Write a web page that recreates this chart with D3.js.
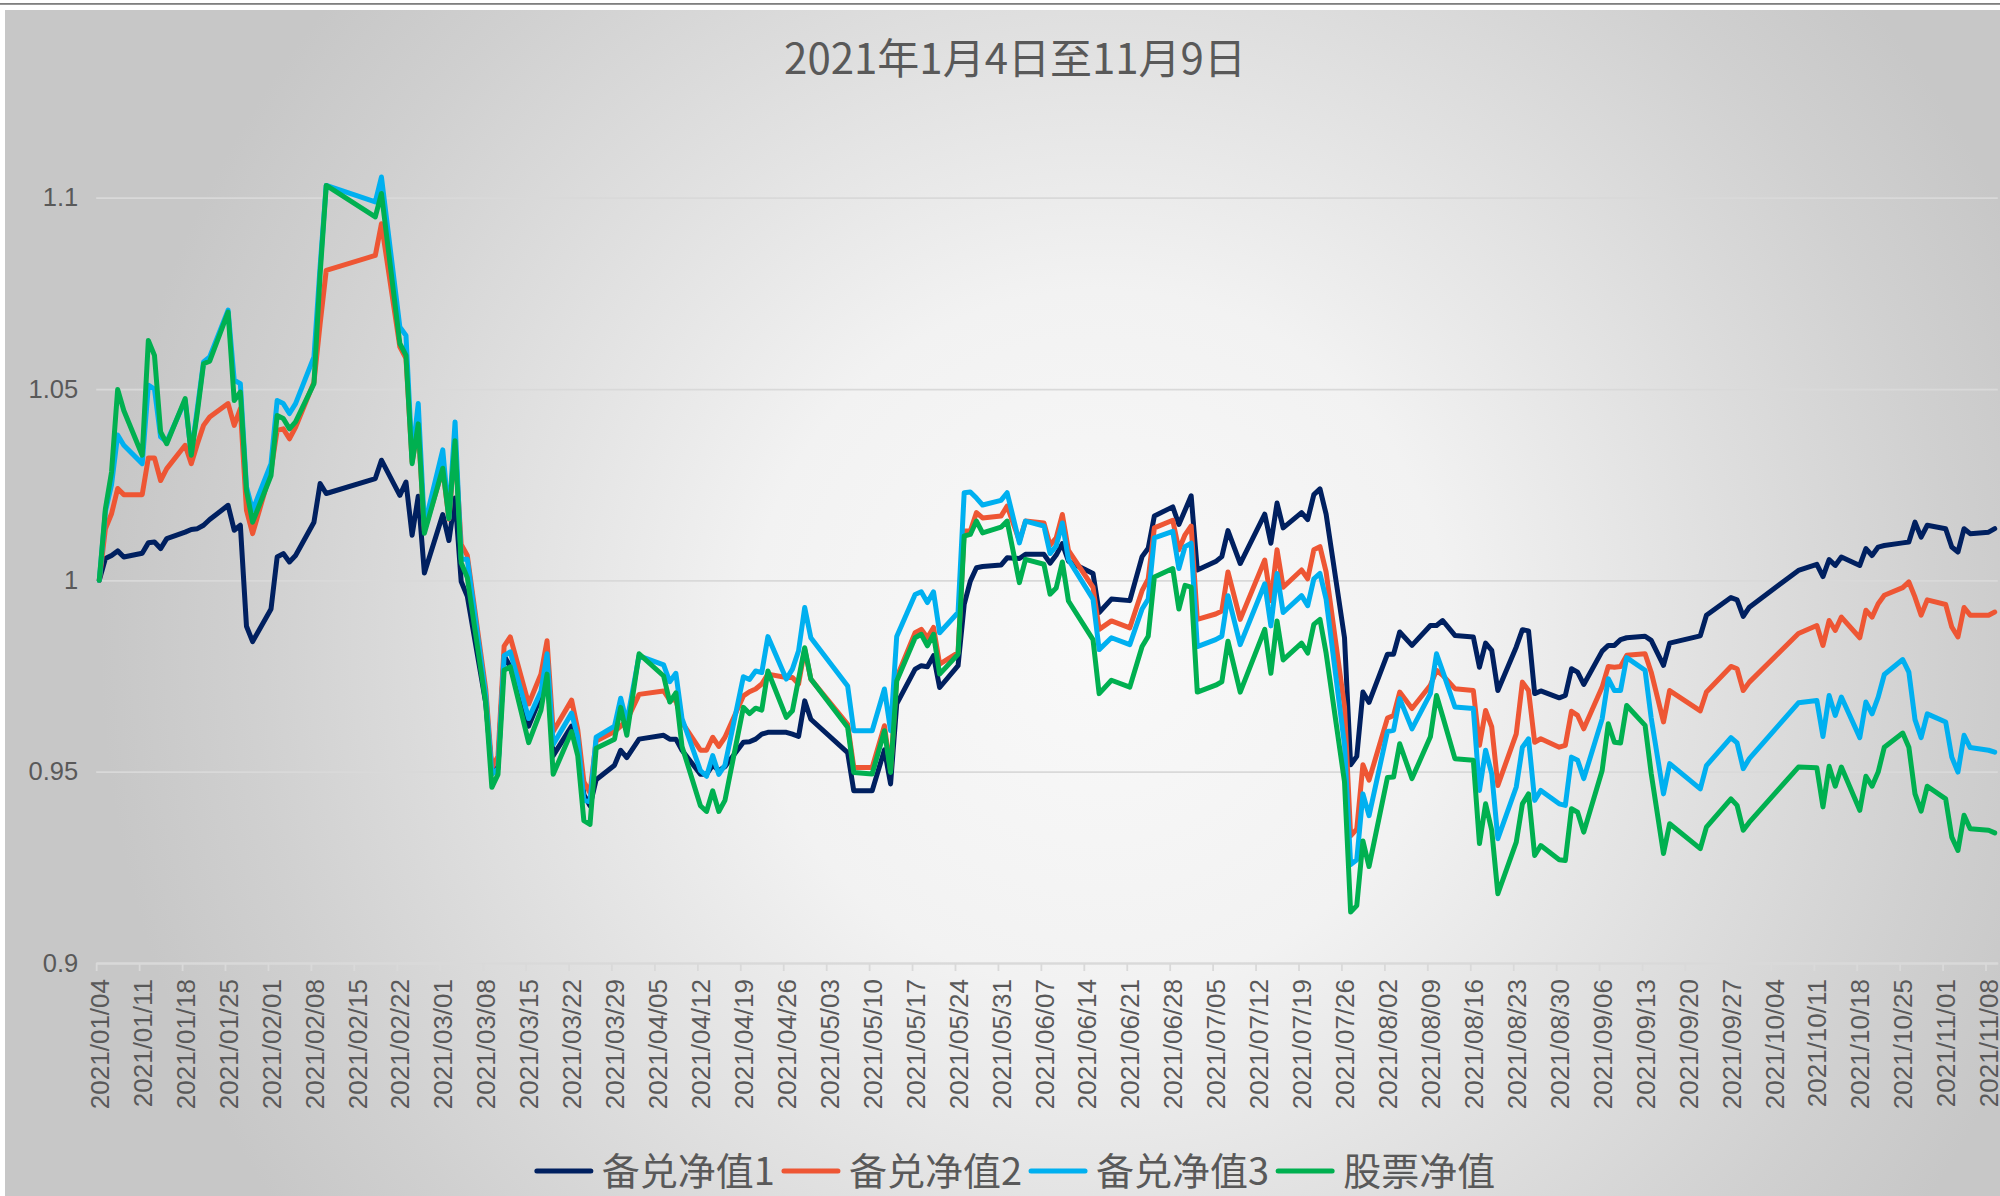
<!DOCTYPE html>
<html>
<head>
<meta charset="utf-8">
<script src="https://cdn.jsdelivr.net/npm/d3@7"></script>
<style>
  html, body { margin: 0; padding: 0; background: #ffffff; }
  svg { display: block; }
</style>
</head>
<body>
<svg id="chart"></svg>
<script>
const width = 2000;
const height = 1196;

const title = "2021年1月4日至11月9日";
const seriesNames = ["备兑净值1", "备兑净值2", "备兑净值3", "股票净值"];
const colorPalette = ["#002060", "#ee5634", "#00b0f0", "#00b050"];
const yTicks = [0.9, 0.95, 1, 1.05, 1.1];

// trading days (only the days where the lines turn)
const dates = [
    "2021-01-04","2021-01-05","2021-01-06","2021-01-07","2021-01-08","2021-01-11","2021-01-12","2021-01-13","2021-01-14","2021-01-15",
    "2021-01-18","2021-01-19","2021-01-20","2021-01-21","2021-01-22","2021-01-25","2021-01-26","2021-01-27","2021-01-28","2021-01-29",
    "2021-02-01","2021-02-02","2021-02-03","2021-02-04","2021-02-05","2021-02-08","2021-02-09","2021-02-10","2021-02-18","2021-02-19",
    "2021-02-22","2021-02-23","2021-02-24","2021-02-25","2021-02-26",
    "2021-03-01","2021-03-02","2021-03-03","2021-03-04","2021-03-05","2021-03-08","2021-03-09","2021-03-10","2021-03-11","2021-03-12",
    "2021-03-15","2021-03-17","2021-03-18","2021-03-19","2021-03-22","2021-03-23","2021-03-24","2021-03-25","2021-03-26","2021-03-29",
    "2021-03-30","2021-03-31",
    "2021-04-02","2021-04-06","2021-04-07","2021-04-08","2021-04-09","2021-04-12","2021-04-13","2021-04-14","2021-04-15","2021-04-16",
    "2021-04-19","2021-04-20","2021-04-21","2021-04-22","2021-04-23","2021-04-26","2021-04-27","2021-04-28","2021-04-29","2021-04-30",
    "2021-05-06","2021-05-07","2021-05-10","2021-05-12","2021-05-13","2021-05-14","2021-05-17","2021-05-18","2021-05-19","2021-05-20",
    "2021-05-21","2021-05-24","2021-05-25","2021-05-26","2021-05-27","2021-05-28","2021-05-31",
    "2021-06-01","2021-06-03","2021-06-04","2021-06-07","2021-06-08","2021-06-09","2021-06-10","2021-06-11","2021-06-15","2021-06-16",
    "2021-06-18","2021-06-21","2021-06-23","2021-06-24","2021-06-25","2021-06-28","2021-06-29","2021-06-30",
    "2021-07-01","2021-07-02","2021-07-05","2021-07-06","2021-07-07","2021-07-09","2021-07-13","2021-07-14","2021-07-15","2021-07-16",
    "2021-07-19","2021-07-20","2021-07-21","2021-07-22","2021-07-23","2021-07-26","2021-07-27","2021-07-28","2021-07-29","2021-07-30",
    "2021-08-02","2021-08-03","2021-08-04","2021-08-06","2021-08-09","2021-08-10","2021-08-11","2021-08-13","2021-08-16","2021-08-17",
    "2021-08-18","2021-08-19","2021-08-20","2021-08-23","2021-08-24","2021-08-25","2021-08-26","2021-08-27","2021-08-30","2021-08-31",
    "2021-09-01","2021-09-02","2021-09-03","2021-09-06","2021-09-07","2021-09-08","2021-09-09","2021-09-10","2021-09-13","2021-09-14",
    "2021-09-16","2021-09-17","2021-09-22","2021-09-23","2021-09-27","2021-09-28","2021-09-29","2021-09-30",
    "2021-10-08","2021-10-11","2021-10-12","2021-10-13","2021-10-14","2021-10-15","2021-10-18","2021-10-19","2021-10-20","2021-10-21",
    "2021-10-22","2021-10-25","2021-10-26","2021-10-27","2021-10-28","2021-10-29",
    "2021-11-01","2021-11-02","2021-11-03","2021-11-04","2021-11-05","2021-11-08","2021-11-09"
];

const nav1 = [
    1.000,1.0057,1.0065,1.0077,1.0061,1.0071,1.0098,1.0100,1.0083,1.0109,
    1.0126,1.0133,1.0135,1.0144,1.0159,1.0196,1.0131,1.0144,0.988,0.984,
    0.9925,1.0061,1.007,1.0048,1.0065,1.0152,1.0253,1.0227,1.0266,1.0314,
    1.0222,1.0257,1.0118,1.022,1.0019,
    1.0172,1.0104,1.0215,0.9997,0.9958,0.968,0.9503,0.9513,0.9803,0.9774,
    0.9619,0.9697,0.9765,0.9542,0.9619,0.958,0.944,0.9411,0.9479,0.9517,
    0.9556,0.9537,
    0.9585,0.9595,0.9585,0.9585,0.9556,0.9493,0.9493,0.9517,0.9503,0.9513,
    0.9577,0.9578,0.9585,0.9598,0.9603,0.9603,0.9598,0.9592,0.9685,0.9637,
    0.955,0.945,0.945,0.9557,0.9468,0.9677,0.9768,0.9777,0.9774,0.9803,
    0.972,0.9777,0.9937,0.9998,1.0033,1.0036,1.004,
    1.0059,1.0057,1.0068,1.0068,1.0045,1.0066,1.0096,1.005,1.0018,0.9916,
    0.9951,0.9947,1.0062,1.0084,1.0168,1.0192,1.0146,1.0183,
    1.0221,1.0027,1.0049,1.0062,1.013,1.0044,1.0173,1.0097,1.0202,1.0137,
    1.0177,1.0159,1.0224,1.0239,1.0173,0.985,0.9518,0.954,0.9708,0.9681,
    0.9807,0.9807,0.9865,0.983,0.9882,0.9882,0.9895,0.9856,0.9852,0.9773,
    0.9836,0.9817,0.9712,0.9826,0.9871,0.9868,0.9704,0.9711,0.9693,0.9699,
    0.9769,0.976,0.9728,0.9815,0.983,0.983,0.9845,0.985,0.9854,0.9843,
    0.9778,0.9836,0.9855,0.9909,0.9955,0.9949,0.9906,0.993,
    1.0026,1.0042,1.001,1.0054,1.0039,1.0061,1.0039,1.0083,1.0065,1.0087,
    1.0091,1.0098,1.0100,1.0152,1.0113,1.0144,
    1.0135,1.0087,1.0074,1.0135,1.0122,1.0126,1.0135
];

const nav2 = [
    1.000,1.0135,1.0174,1.024,1.0224,1.0224,1.032,1.032,1.0261,1.0292,
    1.0353,1.0305,1.0357,1.0405,1.0427,1.0462,1.0405,1.0449,1.0183,1.0122,
    1.0288,1.0392,1.0396,1.037,1.040,1.0518,1.067,1.081,1.0849,1.0932,
    1.061,1.058,1.031,1.040,1.013,
    1.029,1.016,1.0355,1.0094,1.0065,0.9716,0.951,0.954,0.9828,0.9852,
    0.9677,0.9755,0.9842,0.9605,0.9687,0.961,0.9474,0.9445,0.958,0.9605,
    0.9619,0.9634,
    0.9702,0.9711,0.9687,0.9687,0.9629,0.9556,0.9556,0.959,0.9566,0.959,
    0.9698,0.9709,0.9716,0.9729,0.9755,0.9746,0.9746,0.9729,0.982,0.9742,
    0.9624,0.9511,0.9511,0.962,0.9503,0.9746,0.9863,0.9872,0.985,0.9877,
    0.9781,0.9811,1.0129,1.0129,1.0177,1.0163,1.0168,
    1.0194,1.0103,1.0155,1.015,1.0092,1.0111,1.0172,1.0078,0.9982,0.9872,
    0.9894,0.9876,0.9973,1.0004,1.0137,1.0157,1.008,1.0119,
    1.0142,0.9898,0.9912,0.992,1.0022,0.9898,1.0053,0.9947,1.008,0.9982,
    1.0027,1.0004,1.008,1.0088,1.0022,0.967,0.9332,0.935,0.9518,0.9478,
    0.964,0.9647,0.9708,0.9665,0.9726,0.9765,0.9752,0.9717,0.9712,0.9569,
    0.966,0.9617,0.9464,0.9599,0.9734,0.9712,0.9577,0.9586,0.9564,0.9569,
    0.9658,0.9647,0.9612,0.9721,0.9775,0.9773,0.9775,0.9804,0.9808,0.976,
    0.963,0.9712,0.9659,0.9708,0.9775,0.9769,0.9712,0.9734,
    0.9861,0.9882,0.983,0.9895,0.9869,0.9904,0.985,0.9922,0.9904,0.9939,
    0.9961,0.9981,0.9996,0.9956,0.9909,0.9949,
    0.9937,0.9878,0.9852,0.9929,0.9909,0.9909,0.9917
];

const nav3 = [
    1.000,1.018,1.025,1.038,1.0353,1.0305,1.051,1.050,1.0375,1.0362,
    1.047,1.0331,1.045,1.0571,1.0584,1.0706,1.0523,1.0514,1.0244,1.0183,
    1.0305,1.047,1.0462,1.0436,1.0462,1.0584,1.082,1.1032,1.0989,1.1054,
    1.0662,1.064,1.032,1.0462,1.0142,
    1.0341,1.0162,1.0414,1.0055,1.0055,0.970,0.9493,0.9508,0.9803,0.9813,
    0.9639,0.971,0.9808,0.9571,0.9653,0.959,0.9425,0.9421,0.959,0.9619,
    0.9692,0.9629,
    0.9803,0.9779,0.9735,0.9757,0.9639,0.9503,0.9488,0.9542,0.9493,0.9517,
    0.9748,0.9741,0.9763,0.9759,0.9853,0.9742,0.9768,0.9816,0.9929,0.985,
    0.9724,0.9607,0.9607,0.9716,0.9607,0.9853,0.9963,0.997,0.9942,0.997,
    0.9863,0.9916,1.0229,1.0231,1.0215,1.0197,1.0209,
    1.0229,1.0098,1.0155,1.0142,1.007,1.009,1.015,1.0054,0.9951,0.9819,
    0.985,0.9832,0.9925,0.9951,1.0111,1.0128,1.0031,1.0088,
    1.0097,0.9827,0.9845,0.9854,0.996,0.9832,0.9991,0.9881,1.0018,0.9916,
    0.996,0.9934,1.0004,1.0018,0.9951,0.957,0.9257,0.927,0.9442,0.9385,
    0.9605,0.9608,0.9691,0.9612,0.9704,0.9808,0.9763,0.9669,0.9665,0.9451,
    0.9556,0.9495,0.9325,0.946,0.9564,0.9586,0.9425,0.9451,0.9416,0.9412,
    0.9538,0.953,0.9482,0.9638,0.9743,0.9712,0.9712,0.9798,0.9765,0.964,
    0.9442,0.9521,0.9455,0.9516,0.9589,0.9575,0.9508,0.9534,
    0.968,0.9686,0.9592,0.9699,0.9647,0.9695,0.9589,0.9682,0.9651,0.9695,
    0.9754,0.9793,0.976,0.9636,0.9589,0.9651,
    0.963,0.9538,0.9499,0.9595,0.9563,0.9556,0.9551
];

const stockNav = [
    1.000,1.0187,1.0283,1.0499,1.0444,1.0327,1.0627,1.0588,1.0388,1.0357,
    1.0475,1.0327,1.044,1.0566,1.0573,1.0701,1.047,1.0492,1.0235,1.0152,
    1.0274,1.0431,1.0423,1.0396,1.0414,1.0514,1.080,1.1032,1.095,1.1011,
    1.0619,1.0588,1.0305,1.0409,1.0123,
    1.0293,1.0162,1.0365,1.0046,1.0007,0.968,0.9459,0.9493,0.9765,0.9774,
    0.9576,0.966,0.9755,0.9493,0.9605,0.9542,0.9372,0.9362,0.9561,0.9585,
    0.9668,0.9595,
    0.9808,0.975,0.9682,0.9706,0.9566,0.9411,0.9396,0.945,0.9396,0.9425,
    0.9668,0.9652,0.9666,0.9661,0.9763,0.9642,0.9659,0.9742,0.9824,0.9742,
    0.9616,0.9498,0.9494,0.9607,0.9498,0.9737,0.985,0.9859,0.9829,0.9859,
    0.9755,0.9807,1.0116,1.012,1.0155,1.0124,1.0139,
    1.0155,0.9994,1.0055,1.0042,0.9964,0.998,1.0048,0.9946,0.9845,0.9704,
    0.9739,0.9721,0.9827,0.9854,1.0009,1.0031,0.9925,0.9987,
    0.9982,0.9708,0.9726,0.9735,0.9841,0.9708,0.9872,0.9757,0.9894,0.9792,
    0.9836,0.981,0.9885,0.9898,0.981,0.9473,0.9133,0.915,0.9319,0.9252,
    0.9485,0.9486,0.9573,0.9482,0.9591,0.9699,0.9645,0.9534,0.953,0.9312,
    0.9416,0.9347,0.9181,0.9316,0.9416,0.9442,0.9281,0.9307,0.927,0.9268,
    0.9403,0.9394,0.9342,0.9503,0.9625,0.9577,0.9575,0.9673,0.9621,0.9495,
    0.9286,0.9364,0.9299,0.9355,0.9429,0.9412,0.9347,0.9368,
    0.9512,0.951,0.9408,0.9514,0.9462,0.9512,0.9399,0.9488,0.9462,0.9499,
    0.9564,0.9601,0.9564,0.9442,0.9397,0.9462,
    0.9429,0.9329,0.9294,0.9386,0.9351,0.9347,0.934
];

const seriesValues = [nav1, nav2, nav3, stockNav];

const plot = { left: 96.2, right: 1997.8, top: 197.7, bottom: 963 };
const textColor = "#595959";
const gridColor = "#d9d9d9";

function drawChart(svg) {
    svg.attr("width", width).attr("height", height);

    const parseDate = d3.utcParse("%Y-%m-%d");
    const halfDay = 12 * 3600 * 1000;

    // date axis: each day takes one slot, points sit in the middle of it
    const xScale = d3.scaleUtc()
        .domain([new Date(+parseDate(dates[0]) - halfDay), new Date(+parseDate(dates[dates.length - 1]) + halfDay)])
        .range([plot.left, plot.right]);

    const yScale = d3.scaleLinear()
        .domain([0.9, 1.1])
        .range([plot.bottom, plot.top]);

    // background
    const defs = svg.append("defs");
    const grad = defs.append("radialGradient")
        .attr("id", "bg")
        .attr("gradientUnits", "userSpaceOnUse")
        .attr("cx", 1100).attr("cy", 640).attr("r", 1000);
    [[0, "#f9f9f9"], [0.35, "#f2f2f2"], [0.6, "#e1e1e1"], [0.85, "#d0d0d0"], [1, "#c7c7c7"]]
        .forEach(function (s) {
            grad.append("stop").attr("offset", s[0]).attr("stop-color", s[1]);
        });

    svg.append("rect")
        .attr("x", 0).attr("y", 3)
        .attr("width", width).attr("height", 1.8)
        .attr("fill", "#7f7f7f");
    svg.append("rect")
        .attr("x", 5).attr("y", 10)
        .attr("width", width - 5).attr("height", height - 10)
        .attr("fill", "url(#bg)");

    // title
    svg.append("text")
        .attr("x", 1015)
        .attr("y", 74)
        .attr("text-anchor", "middle")
        .style("font-family", "'Noto Sans CJK SC', sans-serif")
        .style("font-size", "42px")
        .style("fill", textColor)
        .text(title);

    // y axis + gridlines
    const yAxis = d3.axisLeft(yScale)
        .tickValues(yTicks)
        .tickFormat(function (d) { return String(d); })
        .tickSize(-(plot.right - plot.left))
        .tickPadding(18);
    const gy = svg.append("g")
        .attr("class", "y-axis")
        .attr("transform", `translate(${plot.left}, 0)`)
        .call(yAxis);
    gy.select(".domain").remove();
    gy.selectAll("line")
        .style("stroke", gridColor)
        .style("stroke-width", 1.8);
    gy.selectAll("text")
        .style("font-family", "'Liberation Sans', Arial, sans-serif")
        .style("font-size", "25.5px")
        .style("fill", textColor);

    // x axis: weekly ticks on Mondays
    const mondays = d3.utcMonday.range(parseDate("2021-01-04"), parseDate("2021-11-09"));
    const tickAxis = d3.axisBottom(xScale)
        .tickValues(mondays.map(function (d) { return new Date(+d - halfDay); }))
        .tickFormat(function () { return ""; })
        .tickSize(8)
        .tickSizeOuter(0);
    const gTicks = svg.append("g")
        .attr("class", "x-axis")
        .attr("transform", `translate(0, ${plot.bottom})`)
        .call(tickAxis);
    gTicks.selectAll("path, line")
        .style("stroke", gridColor)
        .style("stroke-width", 1.8);

    const labelAxis = d3.axisBottom(xScale)
        .tickValues(mondays)
        .tickFormat(d3.utcFormat("%Y/%m/%d"))
        .tickSize(0);
    const gLabels = svg.append("g")
        .attr("transform", `translate(0, ${plot.bottom})`)
        .call(labelAxis);
    gLabels.select(".domain").remove();
    gLabels.selectAll("text")
        .attr("transform", "rotate(-90)")
        .attr("text-anchor", "end")
        .attr("x", -16)
        .attr("y", 0)
        .attr("dy", "0.35em")
        .style("font-family", "'Liberation Sans', Arial, sans-serif")
        .style("font-size", "26px")
        .style("fill", textColor);

    // lines
    const line = d3.line()
        .x(function (d) { return xScale(d.date); })
        .y(function (d) { return yScale(d.value); });

    seriesValues.forEach(function (values, i) {
        const points = dates.map(function (d, j) {
            return { date: parseDate(d), value: values[j] };
        });
        svg.append("path")
            .datum(points)
            .attr("d", line)
            .style("fill", "none")
            .style("stroke", colorPalette[i])
            .style("stroke-width", 5)
            .style("stroke-linejoin", "round")
            .style("stroke-linecap", "round");
    });

    // legend, centred under the chart
    const legend = svg.append("g").attr("class", "legend");
    const items = legend.selectAll("g")
        .data(seriesNames)
        .enter()
        .append("g");
    items.append("line")
        .attr("x1", 0).attr("x2", 54)
        .attr("y1", 0).attr("y2", 0)
        .style("stroke", function (d, i) { return colorPalette[i]; })
        .style("stroke-width", 5)
        .style("stroke-linecap", "round");
    items.append("text")
        .attr("x", 65)
        .attr("y", 0)
        .attr("dy", "0.36em")
        .style("font-family", "'Noto Sans CJK SC', sans-serif")
        .style("font-size", "38px")
        .style("fill", textColor)
        .text(function (d) { return d; });

    let offset = 0;
    items.each(function () {
        const g = d3.select(this);
        const w = 65 + g.select("text").node().getComputedTextLength();
        g.attr("transform", `translate(${offset}, 0)`);
        offset += w + 9;
    });
    const total = offset - 9;
    legend.attr("transform", `translate(${1016 - total / 2}, 1171)`);
}

drawChart(d3.select("#chart"));
</script>
</body>
</html>
